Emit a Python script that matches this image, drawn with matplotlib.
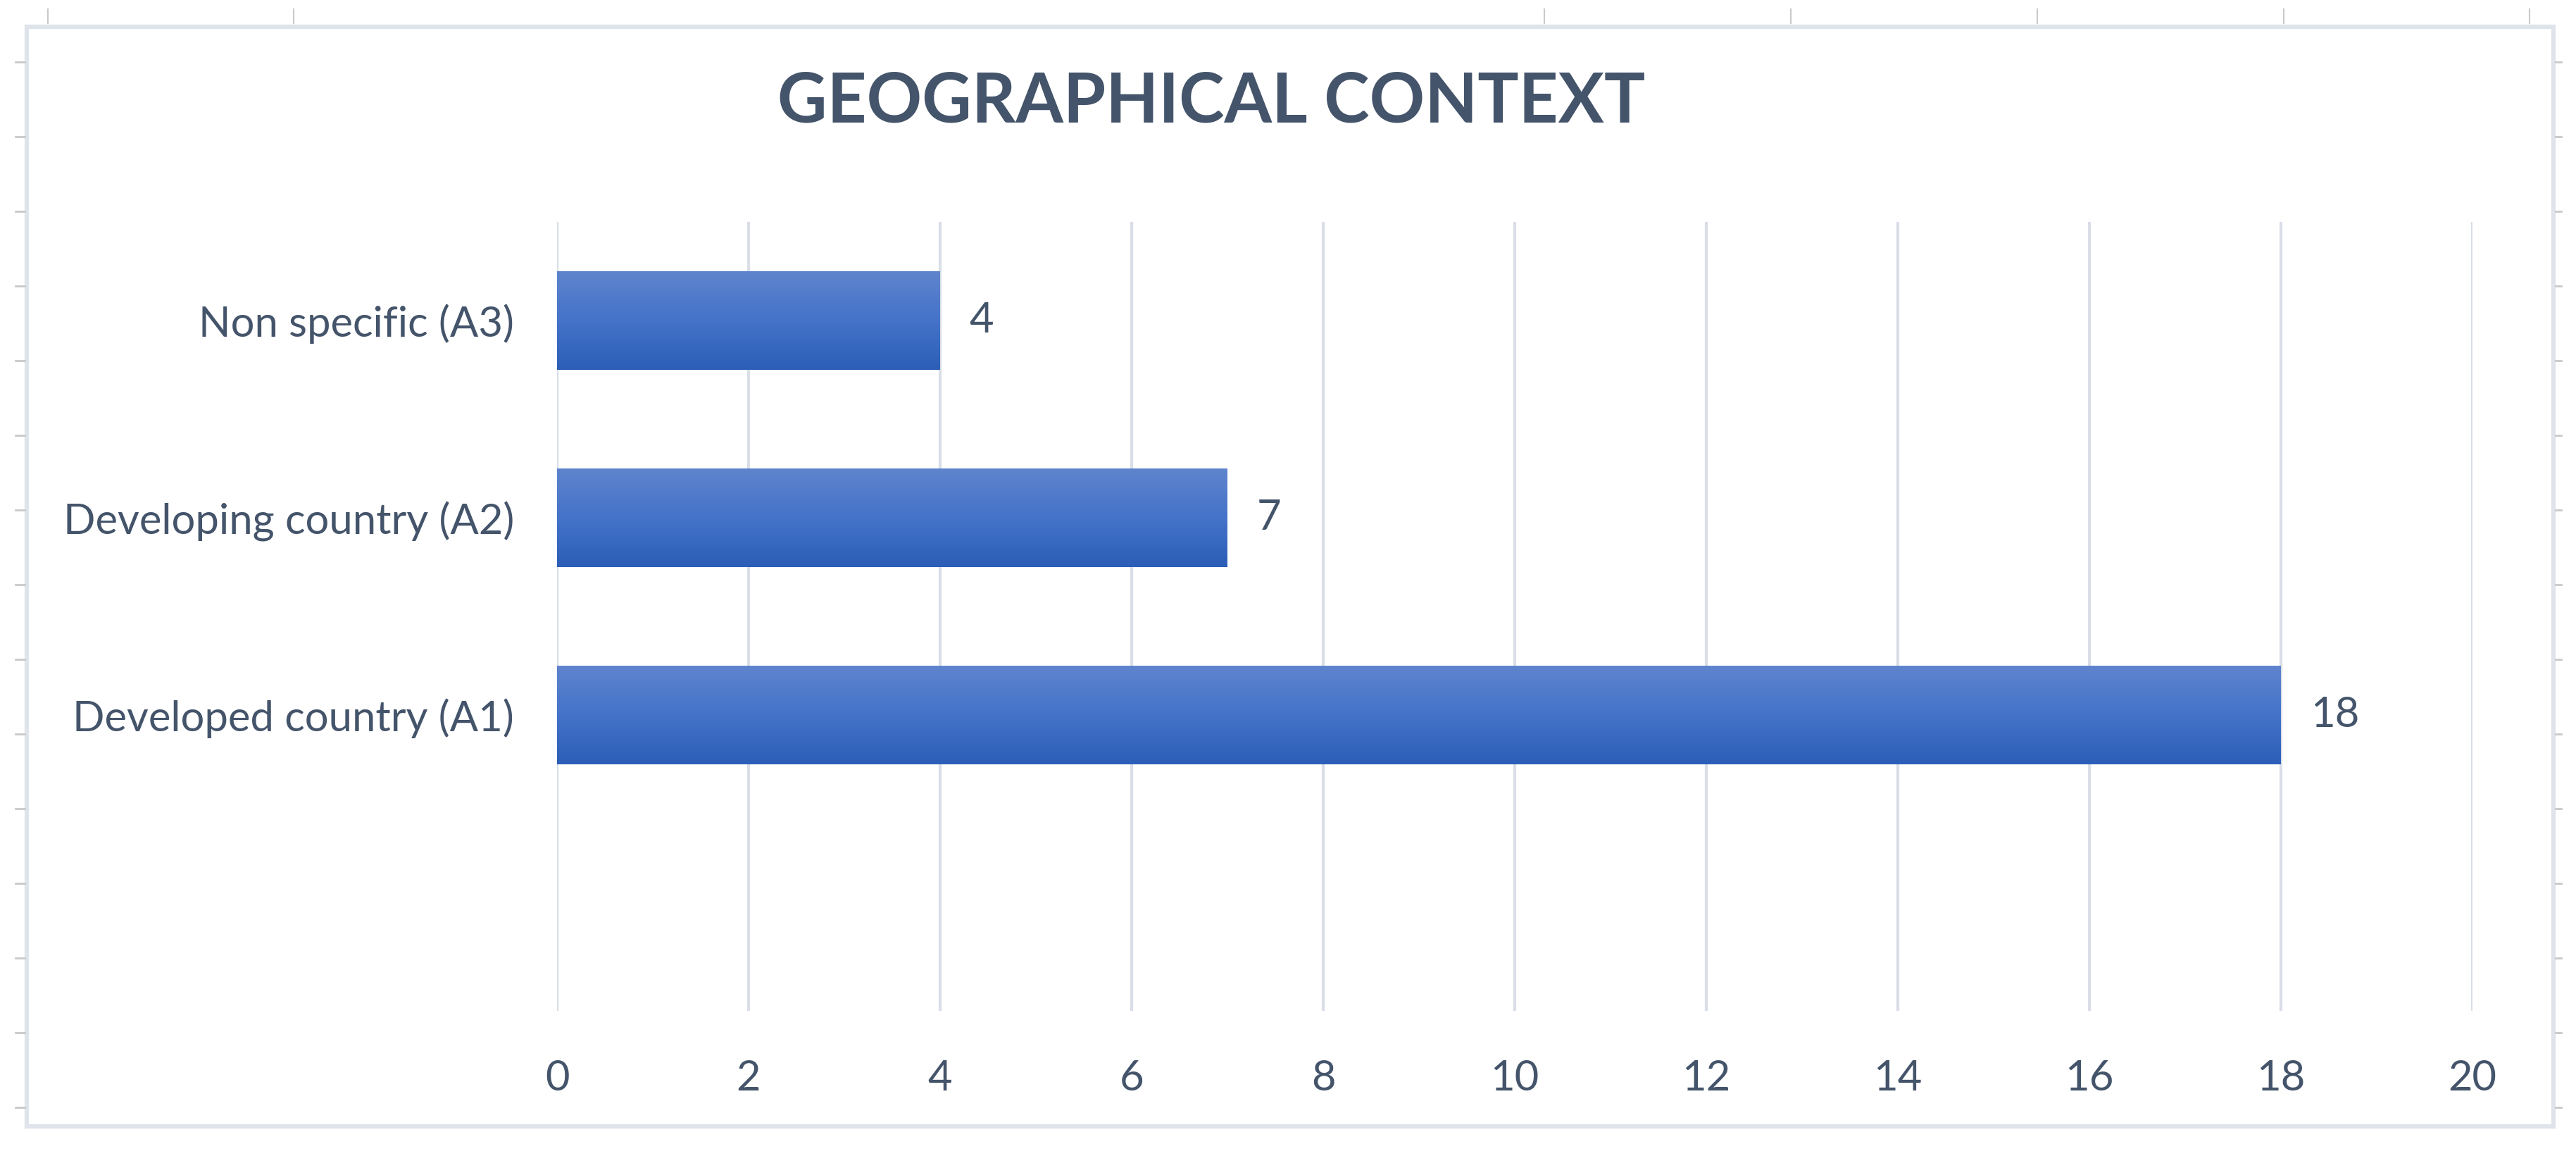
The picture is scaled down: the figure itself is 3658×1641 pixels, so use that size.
import matplotlib

matplotlib.use("Agg")
import matplotlib.pyplot as plt
import numpy as np
from matplotlib.colors import LinearSegmentedColormap
from matplotlib.lines import Line2D
from matplotlib.patches import Rectangle
from matplotlib import font_manager

# data, bottom to top as drawn
categories = ["Developed country (A1)", "Developing country (A2)", "Non specific (A3)"]
counts = [18, 7, 4]
x_ticks = [0, 2, 4, 6, 8, 10, 12, 14, 16, 18, 20]
title = "GEOGRAPHICAL CONTEXT"

TEXT = "#44546A"
GRID = "#D9DEE7"
FRAME = "#DFE3EA"
CELL = "#C9C9C9"

names = {f.name for f in font_manager.fontManager.ttflist}
FONT = ["Lato", "Liberation Sans", "DejaVu Sans"] if "Lato" in names else ["Liberation Sans", "DejaVu Sans"]
plt.rcParams["font.family"] = FONT

W, H = 3658, 1641
fig = plt.figure(figsize=(W / 100, H / 100), dpi=100)
fig.patch.set_facecolor("white")


def fx(px):
    return px / W


def fy(py):
    return 1 - py / H


# spreadsheet cell marks around the chart frame
for x in [68, 417, 2193, 2543, 2893, 3243, 3592]:
    fig.add_artist(Line2D([fx(x), fx(x)], [fy(13), fy(33)], color=CELL, lw=1.5))
for y in np.arange(88, 1600, 106):
    fig.add_artist(Line2D([fx(22), fx(35)], [fy(y), fy(y)], color=CELL, lw=2))
    fig.add_artist(Line2D([fx(3629), fx(3637)], [fy(y), fy(y)], color=CELL, lw=2))

# chart frame
fig.add_artist(Rectangle((fx(38), fy(1599)), fx(3626 - 38), (1599 - 38) / H,
                         fill=False, edgecolor=FRAME, lw=4.5))

ax = fig.add_axes([fx(791), fy(1435), fx(3511 - 791), (1435 - 315) / H])
ypos = np.arange(1, len(categories) + 1)
bars = ax.barh(ypos, counts, height=0.5, color="#4472C4", zorder=2)

grad = LinearSegmentedColormap.from_list("bar", ["#5F84CD", "#4473C9", "#2C5EB7"])
shade = grad(np.linspace(0, 1, 256))[:, None, :]
for b in bars:
    x0, y0 = b.get_x(), b.get_y()
    ax.imshow(shade, extent=(x0, x0 + b.get_width(), y0, y0 + b.get_height()),
              aspect="auto", origin="upper", zorder=3, interpolation="bilinear")

ax.bar_label(bars, labels=[str(v) for v in counts], padding=30, color=TEXT, fontsize=43)

ax.set_xlim(0, 20)
ax.set_ylim(-0.5, 3.5)
ax.set_xticks(x_ticks)
ax.set_xticklabels([str(t) for t in x_ticks], color=TEXT, fontsize=43)
ax.set_yticks(ypos)
ax.set_yticklabels(categories, color=TEXT, fontsize=43)
ax.tick_params(axis="both", length=0)
ax.tick_params(axis="x", pad=50)
ax.tick_params(axis="y", pad=44)
ax.grid(axis="x", color=GRID, lw=3, zorder=0)
ax.set_axisbelow(True)
for s in ax.spines.values():
    s.set_visible(False)

fig.text(fx(1720), fy(145), title, ha="center", va="center", color=TEXT,
         fontsize=70, fontweight="bold")

fig.savefig("out.png", dpi=100, facecolor="white")
